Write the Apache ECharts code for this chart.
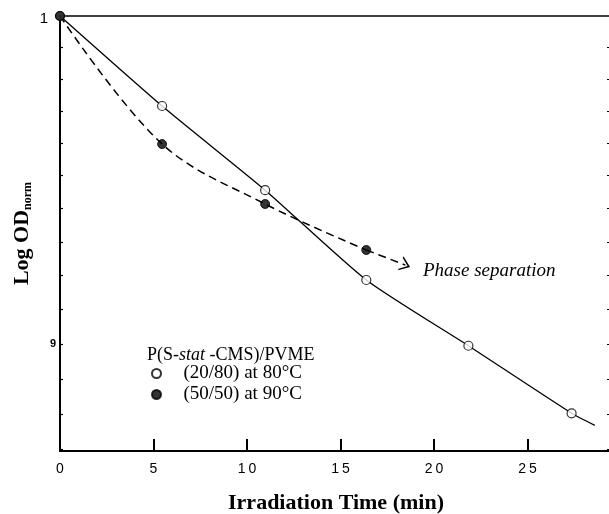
<!DOCTYPE html>
<html>
<head>
<meta charset="utf-8">
<script src="https://cdn.jsdelivr.net/npm/echarts@6/dist/echarts.min.js"></script>
<style>html,body{margin:0;padding:0;background:#fff}#c{width:609px;height:514px}</style>
</head>
<body>
<div id="c"></div>
<script>
// ---- data ----
const timeOpen   = [0, 5.46, 10.97, 16.38, 21.84, 27.36];      // (20/80) at 80°C
const odOpen     = [1.0, 0.9715, 0.9456, 0.9187, 0.8995, 0.8802];
const fitOpenX   = [0, 5.46, 10.97, 16.38, 21.84, 27.36, 28.6]; // solid fit curve
const fitOpenY   = [1.0, 0.9715, 0.9456, 0.9187, 0.8995, 0.8802, 0.8768];
const timeFill   = [0, 5.46, 10.97, 16.38];                     // (50/50) at 90°C
const odFill     = [1.0, 0.9597, 0.9414, 0.9276];
const arrowTip   = [18.47, 0.9231];
const yTickVals  = [0.87, 0.88, 0.89, 0.90, 0.91, 0.92, 0.93, 0.94, 0.95, 0.96, 0.97, 0.98, 0.99];
const yLabelVals = [1.0, 0.9];
const nameOpen = '(20/80) at 80°C';
const nameFill = '(50/50) at 90°C';

const L = v => Math.log10(v);
const pairs = (xs, ys) => xs.map((x, i) => [x, L(ys[i])]);
const yMin = L(0.8696), yMax = 0;

const chart = echarts.init(document.getElementById('c'));
const serif = '"Liberation Serif", "Times New Roman", serif';
const sans = '"Liberation Sans", Arial, sans-serif';

chart.setOption({
  animation: false,
  backgroundColor: '#fff',
  grid: { left: 60, top: 16, right: -3, bottom: 63, outerBoundsMode: 'none', containLabel: false,
    show: true, borderColor: '#000', borderWidth: 1.5, backgroundColor: 'transparent' },
  xAxis: {
    type: 'value', min: 0, max: 29.52, interval: 5, position: 'bottom',
    splitLine: { show: false },
    axisLine: { onZero: false, lineStyle: { color: '#000', width: 2 } },
    axisTick: { inside: true, length: 12, lineStyle: { color: '#000', width: 2 } },
    axisLabel: { color: '#000', fontFamily: sans, fontSize: 14, margin: 11, showMaxLabel: false,
      formatter: v => (Math.abs(v % 5) < 1e-9 && v < 29) ? String(v).split('').join('\u2009') : '' },
    name: 'Irradiation Time (min)', nameLocation: 'middle', nameGap: 41, nameMoveOverlap: false,
    nameTextStyle: { fontFamily: serif, fontWeight: 'bold', fontSize: 22, color: '#000' }
  },
  yAxis: [{
    type: 'value', min: yMin, max: yMax, position: 'left',
    splitLine: { show: false },
    axisLine: { onZero: false, lineStyle: { color: '#000', width: 2 } },
    axisTick: { inside: true, length: 3, lineStyle: { color: '#000', width: 1.2 }, customValues: yTickVals.map(L) },
    axisLabel: { customValues: yLabelVals.map(L), color: '#000', margin: 4,
      formatter: v => Math.abs(v) < 1e-9 ? '{a|1}' : '{b|9}',
      rich: { a: { fontFamily: sans, fontSize: 15, color: '#000', padding: [6, 8, 0, 0] },
              b: { fontFamily: sans, fontSize: 11, fontWeight: 'bold', color: '#000' } } },
    name: '{m|Log OD}{s|norm}', nameLocation: 'middle', nameRotate: 90, nameGap: 26, nameMoveOverlap: false,
    nameTextStyle: { rich: {
      m: { fontFamily: serif, fontWeight: 'bold', fontSize: 22, color: '#000', lineHeight: 24 },
      s: { fontFamily: serif, fontWeight: 'bold', fontSize: 12, color: '#000', verticalAlign: 'bottom', lineHeight: 12 } } }
  }, {
    type: 'value', min: yMin, max: yMax, position: 'right',
    splitLine: { show: false },
    axisLine: { show: false, onZero: false },
    axisTick: { inside: true, length: 5, lineStyle: { color: '#000', width: 1.2 }, customValues: yTickVals.map(L) },
    axisLabel: { show: false }
  }],
  legend: {
    orient: 'vertical', left: 146, top: 359, itemWidth: 44, itemHeight: 9, itemGap: 2,
    data: [nameOpen, nameFill],
    textStyle: { fontFamily: serif, fontSize: 19, color: '#000' }
  },
  graphic: [
    { type: 'text', left: 147, top: 346, style: { text: '{n|P(S-}{i|stat}{n| -CMS)/PVME}',
      rich: { n: { fontFamily: serif, fontSize: 18, fill: '#000' }, i: { fontFamily: serif, fontSize: 18, fontStyle: 'italic', fill: '#000' } } } },
    { type: 'text', left: 423, top: 261, style: { text: 'Phase separation', fontFamily: serif, fontSize: 19, fontStyle: 'italic', fill: '#000' } }
  ],
  series: [
    { type: 'line', data: pairs(fitOpenX, fitOpenY), smooth: 0.2, showSymbol: false, symbol: 'none',
      lineStyle: { color: '#000', width: 1.3 }, z: 2, silent: true },
    { type: 'line', data: pairs(timeFill, odFill), smooth: 0.35, showSymbol: false, symbol: 'none',
      lineStyle: { color: '#000', width: 1.5, type: [8, 5] }, z: 2, silent: true,
      markLine: { silent: true, symbol: ['none', 'path://M0,10 L5,0 L10,10 L8.8,10 L5,2.6 L1.2,10 Z'], symbolSize: [15, 10],
        label: { show: false }, lineStyle: { color: '#000', width: 1.5, type: [8, 5] },
        data: [[{ coord: [timeFill[timeFill.length - 1], L(odFill[odFill.length - 1])] }, { coord: [arrowTip[0], L(arrowTip[1])] }]] } },
    { name: nameOpen, type: 'scatter', data: pairs(timeOpen, odOpen), symbol: 'circle', symbolSize: 9,
      itemStyle: { color: '#fff', borderColor: '#000', borderWidth: 1.2 }, z: 5 },
    { name: nameFill, type: 'scatter', data: pairs(timeFill, odFill), symbol: 'circle', symbolSize: 9,
      itemStyle: { color: '#000', borderColor: '#000', borderWidth: 1 }, z: 6 }
  ]
});
</script>
</body>
</html>
